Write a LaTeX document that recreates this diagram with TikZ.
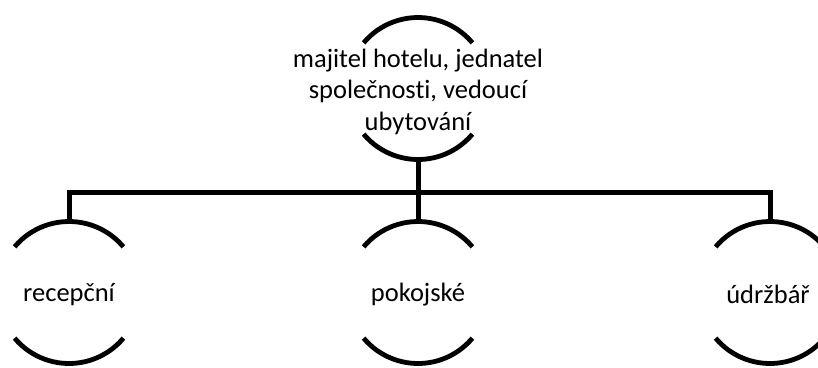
\documentclass[tikz,border=0pt]{standalone}
\usepackage{fontspec}
\setmainfont{Carlito}[Ligatures=NoCommon]
\usetikzlibrary{positioning}
\tikzset{
  ring/.style={circle,draw=none,minimum size=142pt,inner sep=0pt,outer sep=0pt},
  lab/.style={align=center,inner sep=0pt,font=\fontsize{26.5}{31.5}\selectfont},
  rim/.style={line width=4.8pt,black},
  wire/.style={line width=5pt,black,line join=miter}
}
\begin{document}
\begin{tikzpicture}[x=1pt,y=-1pt]
  \useasboundingbox (0,0) rectangle (818,367);
  % rings
  \node[ring] (boss) at (418,88.5) {};
  \node[ring] (rec) at (69,292.5) {};
  \node[ring] (pok) at (418,292.5) {};
  \node[ring] (udr) at (770,292.5) {};
  \coordinate (bus) at (418,192);
  % only top and bottom of each ring are drawn
  \foreach \n in {boss,rec,pok,udr}{
    \draw[rim] (\n.140) arc[start angle=140,end angle=40,radius=71pt];
    \draw[rim] (\n.220) arc[start angle=220,end angle=320,radius=71pt];}
  % labels
  \node[lab] (boss-t) at ([yshift=-3pt]boss.center) {majitel hotelu, jednatel\\společnosti, vedoucí\\ubytování};
  \node[lab] (rec-t) at ([yshift=-2pt]rec.center) {recepční};
  \node[lab] (pok-t) at ([yshift=-2pt]pok.center) {pokojské};
  \node[lab] (udr-t) at ([xshift=-2pt,yshift=-2pt]udr.center) {údržbář};
  % connectors
  \draw[wire] (rec.north) |- (udr.north |- bus) -- (udr.north);
  \draw[wire] (boss.south) -- (pok.north);
\end{tikzpicture}
\end{document}
